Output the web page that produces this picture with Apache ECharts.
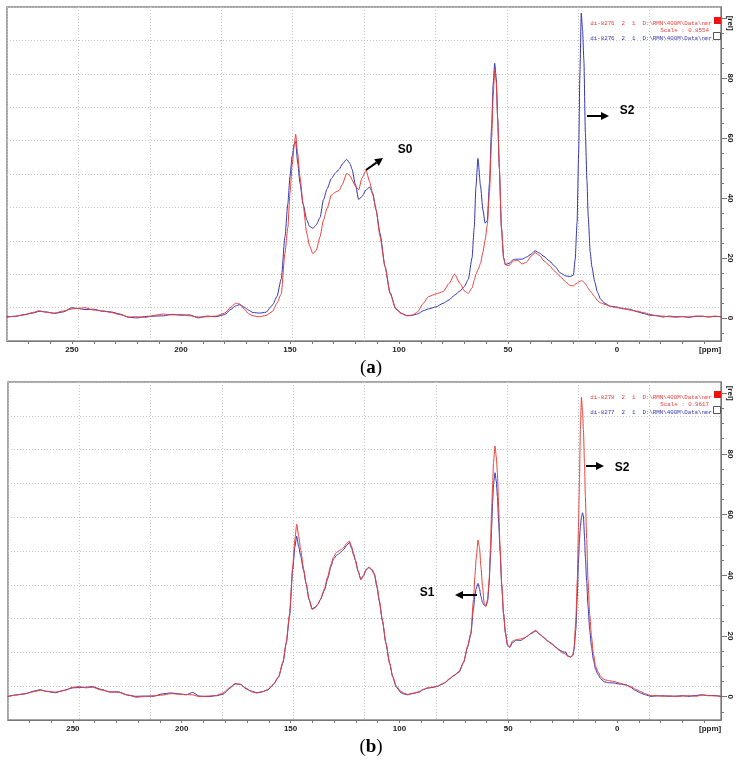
<!DOCTYPE html>
<html lang="en">
<head>
<meta charset="UTF-8">
<title>NMR spectra</title>
<script src="https://cdn.jsdelivr.net/npm/echarts@6/dist/echarts.min.js"></script>
<style>
  * { padding: 0; margin: 0; }
  html, body { background: #fff; }
  #chart { width: 740px; height: 765px; }
</style>
</head>
<body>
<div id="chart"></div>
<script>
// panel (a): shared ppm grid, red = di-8276 (scaled), blue = di-8276
var ppmA = [280,276,272,268,265,262,258,254,250,247,244,240,236,232,228,224,220,216,212,208,204,200,196,192,188,184,180,177,175,173,171,169,167,164,161,158,156,154,152.3,151,150,149,148,147.4,146.5,145.4,144,142.3,141,139.5,138,136.2,134.7,133,131,129,127.5,126,124,122.5,121.5,120,118.5,117,115.1,113.5,112,110.5,108.7,106.4,104.1,101.5,99,96.5,94,91.5,88.8,86.5,83,79.7,77,74.5,72,70,68.2,66.5,65.5,64.7,63.8,62.6,61.5,60.5,59.5,58.5,57.5,56.8,56.1,55.4,54.7,54,53,52,51.2,49.5,47.5,45.5,43.5,41.5,39.5,37.6,35.5,33.5,31,28.5,26,23.5,21.5,20,19.2,18.3,17.6,17.0,16.4,15.8,15.2,14.5,13.8,13.2,12.3,11.5,10.2,9,7.5,5.5,3,0,-3,-6,-9,-12,-15,-18,-21,-24,-27,-30,-33,-36,-39,-42,-45,-48];
var redA = [0.2,0.6,1.0,1.8,2.4,1.9,1.6,2.3,3.0,3.2,3.4,2.6,2.4,1.8,1.1,0.3,0.4,0.2,0.9,1.3,1.0,1.1,0.7,0.3,0.4,0.6,1.6,3.6,4.9,4.6,3.0,1.4,0.7,0.4,0.8,2.2,4.9,8.0,21.6,30,41.6,51,58,61.3,55,47,38,28.2,24,21.4,22.5,27.1,32.5,36.5,41,42,42.5,44.5,48.2,47.5,46,44,42.7,46.6,49.3,45.5,41,36,27.1,17.1,8.2,3.2,1.5,0.7,0.8,2.0,4.9,7.1,8.0,8.8,11.5,14.6,11.5,9.0,8.2,10,12.5,14.5,16,18.2,22,26,31,42,60,74,82.7,79,66,50.4,30,20,17.7,17.5,19.0,19.2,18.0,18.6,20.5,21.8,20.8,19.0,17.5,15.5,13.8,12.0,10.8,10.7,11.2,11.6,12,12.2,12.4,12.3,12.0,11.4,10.6,9.8,9.0,8.2,7.0,5.8,5.0,4.5,3.8,3.4,3.2,2.6,2.3,1.8,1.2,0.7,0.6,0.4,0.2,0.5,0.3,0.6,0.5,0.4,0.6,0.3];
var blueA = [0.4,0.5,1.1,1.6,2.2,2.0,1.5,2.0,3.4,3.1,2.8,2.9,2.2,2.0,1.3,0.2,0.0,0.5,0.6,0.7,1.2,0.9,1.0,0.0,0.6,0.4,1.1,2.9,4.0,4.4,3.6,2.6,1.8,1.6,1.9,4.3,7.1,13.0,27.1,38,47.1,54,58,58.8,52,44.9,38,32.7,30.5,29.9,31.0,33.5,39.3,43,46.5,48.5,49.5,51.3,52.9,51.5,49.5,44.5,39.5,40.5,42.7,43.6,41.5,36,28.2,17.1,8.5,3.0,1.6,0.8,0.9,1.3,2.4,3.0,3.7,4.9,6.0,7.6,9.0,10.5,12.9,20,30,43.8,53.2,44,36,31.6,32.5,45,64,78,84.9,80,66,50.4,30,20,17.8,18.2,19.5,19.6,19.6,20.3,21.2,22.4,21.6,20.5,19.0,17.2,15.0,14.0,13.8,14.3,19.5,32,55,82,101.6,96,86,61.6,46,33.8,22,17,12,8.6,6.2,4.8,3.9,3.6,3.0,2.9,2.1,1.5,0.9,0.8,0.3,0.6,0.4,0.4,0.2,0.5,0.6,0.3,0.5,0.4];

// panel (b): red = di-8278 (scaled), blue = di-8277
var ppmB = [280,276,272,268,265,262,258,254,250,247,244,241,237,233,229,225,221,217,213,209,205,201,198,195,192,188,184,181,178,175.5,173,170.5,168,165.5,163,160.5,158,155.5,153.5,152,150.5,149,148,147.2,146.3,145.4,144,142.9,141.5,140.1,138.8,137.5,136.3,134.5,132.9,131.5,130.3,129,128,126.8,125.6,124.3,123,122,121,120.3,119,117.7,116.5,115.3,114,112.7,111.5,110.3,109.3,107.8,106.2,104.5,103.1,101.5,99.3,97.5,96.2,94.7,93.2,91,89,87.1,85,82.5,80.5,79,77,75,72.6,70.5,68.7,67.2,66,65.3,64.8,63.9,63.2,62.6,61.8,61.1,60.3,59.5,58.8,58.2,57.7,57.2,56.8,56.1,55.5,55,54.4,53.8,53,52.2,51.3,50.4,49.3,48.1,46.3,44.3,42.6,41.2,39.5,37.4,35.5,33.8,32,30,28.3,26.7,25,23.5,22.8,21.3,20.3,19.8,19,18.3,17.8,17.3,16.9,16.4,15.9,15.5,15,14.6,14,13.4,12.6,11.8,10.9,9.9,8.8,7.6,6,4,1.5,-1.5,-4,-6.2,-8.5,-10.8,-13,-15.5,-18,-21,-24,-27,-30,-33,-36,-39,-42,-45,-48];
var redB = [0.1,0.5,1.0,1.6,2.1,1.8,1.5,2.0,3.1,3.3,2.9,3.1,2.2,1.6,1.4,0.6,-0.2,0.0,0.3,0.5,1.0,0.8,0.7,0.6,0.0,0.2,0.4,1.2,3.0,4.3,4.0,2.8,1.6,1.2,1.6,2.3,4.0,6.6,11.5,18,27,43,52,56.8,53,48.5,42,37.5,32,28.7,29.2,30.5,32,35.5,39.7,43.5,46,47.5,48,48.5,49.1,50.5,51.3,49.5,47,45.2,41.5,38.6,40,42,42.7,42.0,40.5,36.5,32,25,17.7,11,6.7,3.6,1.7,1.0,0.7,1.0,1.2,1.6,2.4,2.9,3.1,3.4,4.2,4.7,6.0,7.0,8.3,11.5,16.6,21,32,40,45.2,51.6,49,43,36,30.9,29.8,32,38.6,49,60.6,70,77.1,82.6,79,73.8,62,49.6,37,27.6,21,17.2,16.5,18.3,18.8,19.0,19.4,19.9,21.0,21.9,20.5,19.5,18.3,17.3,16.2,15.3,14.4,14.0,13.3,13.1,14.0,16.1,25,38.6,55,71.6,88,98.6,94,88.1,77,66.1,52,38.6,27,19.9,14,10,8.2,6.7,5.6,5.3,5.0,4.4,3.8,3.4,2.4,1.7,0.9,0.3,0.4,0.1,0.3,0.0,0.2,0.3,0.1,0.5,0.4,0.2,0.1];
var blueB = [0.0,0.6,0.9,1.8,2.3,1.7,1.3,2.1,2.9,3.0,3.1,3.3,2.4,1.5,1.6,0.5,0.1,0.2,0.1,0.9,1.2,0.9,0.6,1.4,0.2,0.0,0.3,0.8,2.7,4.2,4.1,2.6,1.8,1.3,1.6,2.2,3.9,6.5,11.2,17.5,26.5,42,49.5,52.9,49.5,46.5,41.5,37.3,32,29,29.4,30.4,32,35,39,42.8,45.3,46.5,47,47.7,48.5,49.8,50.8,49,46.6,45,41.3,38.6,39.8,41.8,42.5,41.8,40.2,36,31.5,25,17.5,11,6.5,3.2,1.3,0.8,0.6,0.9,1.1,1.5,2.3,2.8,3.0,3.4,4.1,4.6,5.8,6.9,8.1,11.3,16.4,20.5,29,33.5,35.5,37.3,35.5,33.1,31,30.2,29.8,31.5,37.5,46,55,64,70,73.8,71,66,57,48,36.5,27.4,21,17.0,16.2,17.8,18.6,18.5,19.2,20,20.8,21.6,20.5,19.6,18.4,17.5,16.4,15.5,14.8,14.6,13.5,13.0,13.6,15.5,22,33,44,52,56,59,60.6,59.5,53,46,38,30,22,16.5,12.2,9.0,7.3,6.0,4.9,4.6,4.5,4.1,3.9,3.1,2.0,1.2,0.6,0.1,0.2,0.3,0.1,0.2,0.3,0.1,0.4,0.6,0.3,0.4,0.0];

var xLabels = [0, 50, 100, 150, 200, 250];
var yLabels = [0, 20, 40, 60, 80];
var legendA = ['di-8276  2  1  D:\\RMN\\400M\\Data\\nmr', 'Scale : 0.8554', 'di-8276  2  1  D:\\RMN\\400M\\Data\\nmr'];
var legendB = ['di-8278  2  1  D:\\RMN\\400M\\Data\\nmr', 'Scale : 0.9617', 'di-8277  2  1  D:\\RMN\\400M\\Data\\nmr'];

var RED = '#e8403a';
var BLUE = '#3434b4';
var X_MIN = -47.7, X_MAX = 279.8;
var Y_MIN = -7.7, Y_MAX = 103.7;

function zip(xs, ys) {
    return xs.map(function (x, i) { return [x, ys[i]]; });
}
function range(a, b, step) {
    var out = [];
    for (var v = a; v <= b; v += step) out.push(v);
    return out;
}

var labelFont = { fontSize: 8, fontWeight: 'bold', color: '#222', fontFamily: 'Liberation Sans' };

function mainX(grid) {
    return {
        gridIndex: grid, type: 'value', inverse: true, min: X_MIN, max: X_MAX, position: 'bottom',
        axisLine: { show: true, onZero: false, lineStyle: { color: '#777', width: 1 } },
        axisTick: { show: true, length: 3, customValues: range(-40, 270, 10), lineStyle: { color: '#777' } },
        axisLabel: Object.assign({
            margin: 5,
            customValues: xLabels.concat([-42.7]),
            formatter: function (v) { return v < -10 ? '[ppm]' : String(v); }
        }, labelFont),
        splitLine: { show: false }
    };
}
function gridX(grid) {
    return {
        gridIndex: grid, type: 'value', min: 0, max: 10, interval: 1, position: 'top',
        axisLine: { show: false, onZero: false }, axisTick: { show: false }, axisLabel: { show: false },
        splitLine: { show: true, lineStyle: { color: '#c4c4c4', type: [1, 2], width: 1 } }
    };
}
function mainY(grid, nameAt) {
    return {
        gridIndex: grid, type: 'value', min: Y_MIN, max: Y_MAX, position: 'right',
        axisLine: { show: true, onZero: false, lineStyle: { color: '#777', width: 1 } },
        axisTick: { show: true, length: 3, customValues: range(-5, 100, 5), lineStyle: { color: '#777' } },
        axisLabel: Object.assign({
            margin: 5, rotate: -90,
            customValues: yLabels.concat([nameAt]),
            formatter: function (v) { return v > 90 ? '[rel]' : String(v); }
        }, labelFont),
        splitLine: { show: false }
    };
}
function majorY(grid) {
    return {
        gridIndex: grid, type: 'value', min: Y_MIN, max: Y_MAX, position: 'right',
        axisLine: { show: false, onZero: false },
        axisTick: { show: true, length: 6, customValues: yLabels.concat([100]), lineStyle: { color: '#777' } },
        axisLabel: { show: false }, splitLine: { show: false }
    };
}
function gridY(grid) {
    return {
        gridIndex: grid, type: 'value', min: 0, max: 10, interval: 1, position: 'left',
        axisLine: { show: false, onZero: false }, axisTick: { show: false }, axisLabel: { show: false },
        splitLine: { show: true, lineStyle: { color: '#c4c4c4', type: [1, 2], width: 1 } }
    };
}
function spectrum(name, data, color, xi, yi) {
    return {
        name: name, type: 'line', xAxisIndex: xi, yAxisIndex: yi, data: data,
        showSymbol: false, symbol: 'none', smooth: 0.2, smoothMonotone: 'x',
        lineStyle: { color: color, width: 1 }, silent: true, animation: false, z: 3
    };
}

function arrow(x1, y1, x2, y2) {
    var ang = Math.atan2(y2 - y1, x2 - x1);
    var L = 8, W = 4;
    var bx = x2 - L * Math.cos(ang), by = y2 - L * Math.sin(ang);
    var px = -Math.sin(ang) * W, py = Math.cos(ang) * W;
    return [
        { type: 'line', shape: { x1: x1, y1: y1, x2: bx, y2: by }, style: { stroke: '#000', lineWidth: 2 }, z: 10 },
        { type: 'polygon', shape: { points: [[x2, y2], [bx + px, by + py], [bx - px, by - py]] }, style: { fill: '#000' }, z: 10 }
    ];
}
function note(text, x, y) {
    return { type: 'text', x: x, y: y, z: 10,
        style: { text: text, font: 'bold 12px "Liberation Sans"', fill: '#000', textAlign: 'center', textVerticalAlign: 'middle' } };
}
function legendBlock(lines, top) {
    var font = '5.8px "Liberation Mono"';
    return [
        { type: 'text', x: 712, y: top, style: { text: lines[0], font: font, fill: RED, textAlign: 'right', textVerticalAlign: 'middle' }, z: 10 },
        { type: 'text', x: 709, y: top + 7.5, style: { text: lines[1], font: font, fill: RED, textAlign: 'right', textVerticalAlign: 'middle' }, z: 10 },
        { type: 'text', x: 712, y: top + 15, style: { text: lines[2], font: font, fill: BLUE, textAlign: 'right', textVerticalAlign: 'middle' }, z: 10 },
        { type: 'rect', shape: { x: 714, y: top - 6, width: 7, height: 7 }, style: { fill: '#ee1111' }, z: 10 },
        { type: 'rect', shape: { x: 713.5, y: top + 9.5, width: 7, height: 7 }, style: { fill: '#fff', stroke: '#555', lineWidth: 1 }, z: 10 }
    ];
}
function caption(letter, y) {
    return { type: 'text', x: 371, y: y, z: 10,
        style: {
            text: '{p|(}{b|' + letter + '}{p|)}', textAlign: 'center', textVerticalAlign: 'middle',
            rich: {
                p: { fontFamily: 'Liberation Serif', fontSize: 19, fill: '#000' },
                b: { fontFamily: 'Liberation Serif', fontSize: 19, fontWeight: 'bold', fill: '#000' }
            }
        } };
}

var graphics = []
    .concat(legendBlock(legendA, 23))
    .concat(legendBlock(legendB, 397))
    .concat(arrow(366, 170, 383, 158)).concat([note('S0', 405, 150)])
    .concat(arrow(587, 116, 609, 116)).concat([note('S2', 627, 111)])
    .concat(arrow(586, 466, 604, 466)).concat([note('S2', 622, 468)])
    .concat(arrow(477, 595, 455, 595)).concat([note('S1', 427, 593)])
    .concat([caption('a', 368), caption('b', 747)]);

var chart = echarts.init(document.getElementById('chart'));
var option = {
    animation: false,
    backgroundColor: '#fff',
    grid: [
        { left: 7, top: 7, width: 714, height: 334, show: true, borderColor: '#8a8a8a', borderWidth: 1.5, backgroundColor: 'transparent' },
        { left: 8, top: 382, width: 713, height: 338, show: true, borderColor: '#8a8a8a', borderWidth: 1.5, backgroundColor: 'transparent' }
    ],
    xAxis: [mainX(0), gridX(0), mainX(1), gridX(1)],
    yAxis: [mainY(0, 98.3), majorY(0), gridY(0), mainY(1, 100), majorY(1), gridY(1)],
    series: [
        spectrum('di-8276 blue', zip(ppmA, blueA), BLUE, 0, 0),
        spectrum('di-8276 red', zip(ppmA, redA), RED, 0, 0),
        spectrum('di-8277 blue', zip(ppmB, blueB), BLUE, 2, 3),
        spectrum('di-8278 red', zip(ppmB, redB), RED, 2, 3)
    ],
    graphic: graphics
};
chart.setOption(option);
</script>
</body>
</html>
